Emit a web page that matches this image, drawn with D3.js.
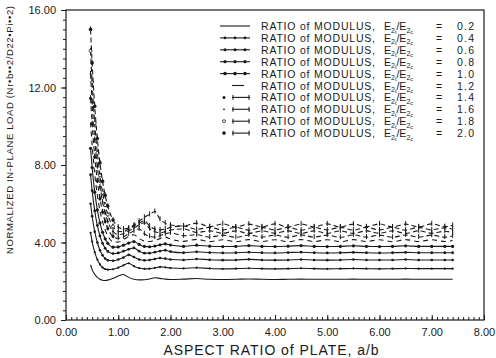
<!DOCTYPE html>
<html>
<head>
<meta charset="utf-8">
<script src="https://cdn.jsdelivr.net/npm/d3@7"></script>
<style>
  body { margin: 0; background: #fff; }
  svg { display: block; font-family: "Liberation Sans", Arial, sans-serif; }
  .axis text { font-size: 11px; fill: #1a1a1a; }
  .axis line { stroke: #1a1a1a; stroke-width: 1; }
  .frame { fill: none; stroke: #1a1a1a; stroke-width: 1.2; }
  .curve { fill: none; stroke: #1a1a1a; stroke-width: 1.1; }
  .legend-text { font-size: 10.5px; fill: #1a1a1a; }
  .axis-title { fill: #1a1a1a; }
</style>
</head>
<body>
<svg id="chart"></svg>
<script>
// aspect ratio a/b where the load was read
const aspect = [0.47, 0.5, 0.55, 0.6, 0.65, 0.7, 0.75, 0.8, 0.9, 1.0,
  1.1, 1.2, 1.3, 1.4, 1.5, 1.6, 1.7, 1.8, 1.9, 2.0,
  2.25, 2.5, 2.75, 3.0, 3.25, 3.5, 3.75, 4.0, 4.25, 4.5,
  4.75, 5.0, 5.25, 5.5, 5.75, 6.0, 6.25, 6.5, 6.75, 7.0, 7.25, 7.4];

const ratioLabels = ['0.2', '0.4', '0.6', '0.8', '1.0', '1.2', '1.4', '1.6', '1.8', '2.0'];

const load02 = [2.85, 2.60, 2.36, 2.20, 2.10, 2.05, 2.04, 2.06, 2.15, 2.27, 2.35, 2.20, 2.10, 2.07, 2.08, 2.12, 2.18, 2.15, 2.11, 2.09, 2.11, 2.14, 2.10, 2.09, 2.10, 2.12, 2.10, 2.09, 2.10, 2.11, 2.10, 2.10, 2.10, 2.11, 2.10, 2.10, 2.10, 2.11, 2.10, 2.10, 2.10, 2.10];
const load04 = [4.50, 4.05, 3.50, 3.12, 2.87, 2.71, 2.63, 2.60, 2.62, 2.70, 2.82, 2.93, 2.78, 2.68, 2.64, 2.65, 2.69, 2.74, 2.72, 2.68, 2.66, 2.70, 2.66, 2.64, 2.65, 2.67, 2.65, 2.64, 2.65, 2.67, 2.65, 2.64, 2.65, 2.66, 2.65, 2.64, 2.65, 2.66, 2.65, 2.65, 2.65, 2.65];
const load06 = [6.00, 5.36, 4.56, 4.00, 3.60, 3.34, 3.17, 3.08, 3.06, 3.12, 3.22, 3.36, 3.25, 3.12, 3.08, 3.10, 3.15, 3.20, 3.17, 3.12, 3.10, 3.15, 3.11, 3.09, 3.10, 3.13, 3.10, 3.09, 3.10, 3.12, 3.10, 3.09, 3.10, 3.12, 3.10, 3.10, 3.10, 3.12, 3.10, 3.10, 3.10, 3.10];
const load08 = [7.50, 6.68, 5.63, 4.88, 4.34, 3.96, 3.70, 3.54, 3.43, 3.46, 3.55, 3.65, 3.72, 3.55, 3.45, 3.45, 3.50, 3.56, 3.60, 3.53, 3.47, 3.52, 3.48, 3.46, 3.47, 3.50, 3.47, 3.46, 3.48, 3.50, 3.47, 3.46, 3.47, 3.49, 3.47, 3.46, 3.47, 3.49, 3.47, 3.47, 3.47, 3.47];
const load10 = [8.86, 7.87, 6.60, 5.68, 5.01, 4.53, 4.19, 3.96, 3.76, 3.77, 3.86, 3.97, 4.05, 3.90, 3.80, 3.78, 3.82, 3.88, 3.93, 3.87, 3.80, 3.86, 3.81, 3.79, 3.80, 3.84, 3.80, 3.79, 3.81, 3.84, 3.80, 3.79, 3.80, 3.83, 3.80, 3.79, 3.80, 3.83, 3.80, 3.80, 3.80, 3.80];
const load12 = [10.20, 9.03, 7.53, 6.44, 5.64, 5.06, 4.64, 4.35, 4.04, 4.02, 4.15, 4.30, 4.40, 4.20, 4.08, 4.05, 4.10, 4.20, 4.28, 4.18, 4.06, 4.16, 4.05, 4.14, 4.04, 4.15, 4.05, 4.14, 4.04, 4.15, 4.05, 4.14, 4.04, 4.15, 4.05, 4.14, 4.04, 4.15, 4.05, 4.14, 4.05, 4.10];
const load14 = [11.45, 10.13, 8.43, 7.18, 6.26, 5.58, 5.08, 4.72, 4.32, 4.22, 4.30, 4.45, 4.60, 4.70, 4.45, 4.32, 4.28, 4.35, 4.45, 4.50, 4.35, 4.40, 4.28, 4.38, 4.27, 4.39, 4.28, 4.38, 4.27, 4.39, 4.28, 4.38, 4.27, 4.39, 4.28, 4.38, 4.27, 4.39, 4.28, 4.38, 4.28, 4.34];
const load16 = [12.70, 11.22, 9.31, 7.91, 6.87, 6.09, 5.51, 5.08, 4.58, 4.41, 4.45, 4.60, 4.75, 4.90, 5.02, 4.72, 4.55, 4.50, 4.56, 4.64, 4.70, 4.52, 4.60, 4.48, 4.60, 4.47, 4.60, 4.48, 4.60, 4.47, 4.60, 4.48, 4.60, 4.47, 4.60, 4.48, 4.60, 4.47, 4.60, 4.48, 4.58, 4.50];
const load18 = [13.90, 12.28, 10.17, 8.62, 7.46, 6.58, 5.93, 5.44, 4.83, 4.58, 4.56, 4.70, 4.85, 5.00, 5.12, 4.85, 4.70, 4.66, 4.70, 4.78, 4.85, 4.68, 4.78, 4.65, 4.78, 4.64, 4.78, 4.65, 4.78, 4.64, 4.78, 4.65, 4.78, 4.64, 4.78, 4.65, 4.78, 4.64, 4.78, 4.65, 4.76, 4.68];
const load20 = [15.00, 13.27, 11.03, 9.37, 8.11, 7.16, 6.43, 5.88, 5.16, 4.80, 4.70, 4.75, 4.90, 5.10, 5.30, 5.45, 5.60, 5.20, 5.00, 4.90, 4.85, 5.00, 4.82, 4.96, 4.80, 4.95, 4.81, 4.96, 4.80, 4.95, 4.81, 4.96, 4.80, 4.95, 4.81, 4.96, 4.80, 4.95, 4.81, 4.96, 4.82, 4.88];

const xTicks = [0, 1, 2, 3, 4, 5, 6, 7, 8];
const yTicks = [0, 4, 8, 12, 16];

class LoadChart {

  constructor(_config) {
    this.config = {
      parentElement: _config.parentElement,
      containerWidth: _config.containerWidth || 496,
      containerHeight: _config.containerHeight || 358,
      margin: _config.margin || {top: 10, right: 12, bottom: 38, left: 66}
    };
    this.series = [load02, load04, load06, load08, load10, load12, load14, load16, load18, load20];
    // line style per series (dash pattern + marker kind)
    this.styles = [
      {dash: null, marker: null},
      {dash: null, marker: 'dot', r: 1.1},
      {dash: null, marker: 'dot', r: 1.3},
      {dash: null, marker: 'dot', r: 1.4},
      {dash: null, marker: 'dot', r: 1.6},
      {dash: '5,4', marker: null},
      {dash: '5,3', marker: 'tick', sym: 'dot', r: 1.5},
      {dash: '5,3', marker: 'tick', sym: 'dot', r: 0.9},
      {dash: '5,3', marker: 'tick', sym: 'open', r: 1.5},
      {dash: '5,3', marker: 'tick', sym: 'dot', r: 1.8}
    ];
    this.initVis();
  }

  initVis() {
    let vis = this;
    const m = vis.config.margin;
    vis.width = vis.config.containerWidth - m.left - m.right;
    vis.height = vis.config.containerHeight - m.top - m.bottom;

    vis.xScale = d3.scaleLinear().domain([0, 8]).range([0, vis.width]);
    vis.yScale = d3.scaleLinear().domain([0, 16]).range([vis.height, 0]);

    vis.svg = d3.select(vis.config.parentElement)
        .attr('width', vis.config.containerWidth)
        .attr('height', vis.config.containerHeight);

    vis.chart = vis.svg.append('g')
        .attr('transform', `translate(${m.left},${m.top})`);

    // minor ticks first, majors on top
    vis.chart.append('g')
        .attr('class', 'axis')
        .attr('transform', `translate(0,${vis.height})`)
        .call(d3.axisBottom(vis.xScale).tickValues(d3.range(0, 8.001, 0.1)).tickSize(-3).tickFormat(''))
        .call(g => g.select('.domain').remove());

    vis.chart.append('g')
        .attr('class', 'axis')
        .attr('transform', `translate(0,${vis.height})`)
        .call(d3.axisBottom(vis.xScale).tickValues(xTicks).tickSizeInner(-5).tickSizeOuter(0)
          .tickPadding(8).tickFormat(d3.format('.2f')))
        .call(g => g.select('.domain').remove());

    vis.chart.append('g')
        .attr('class', 'axis')
        .call(d3.axisLeft(vis.yScale).tickValues(d3.range(0, 16.001, 0.5)).tickSize(3).tickFormat(''))
        .call(g => g.select('.domain').remove());

    vis.chart.append('g')
        .attr('class', 'axis')
        .call(d3.axisLeft(vis.yScale).tickValues(yTicks).tickSizeInner(5).tickSizeOuter(0)
          .tickPadding(5).tickFormat(d3.format('.2f')))
        .call(g => g.select('.domain').remove());

    vis.chart.append('rect')
        .attr('class', 'frame')
        .attr('width', vis.width)
        .attr('height', vis.height);

    // axis titles
    vis.svg.append('text')
        .attr('class', 'axis-title')
        .attr('x', 271)
        .attr('y', 355)
        .attr('text-anchor', 'middle')
        .attr('font-size', 14)
        .attr('textLength', 215)
        .text('ASPECT RATIO of PLATE, a/b');

    vis.svg.append('text')
        .attr('class', 'axis-title')
        .attr('transform', 'translate(13,130) rotate(-90)')
        .attr('text-anchor', 'middle')
        .attr('font-size', 9.5)
        .attr('textLength', 248)
        .text('NORMALIZED IN-PLANE LOAD (Nr•b••2/D22•Pi••2)');
  }

  renderVis() {
    let vis = this;
    const line = d3.line()
        .x((d, i) => vis.xScale(aspect[i]))
        .y(d => vis.yScale(d))
        .curve(d3.curveMonotoneX);

    vis.series.forEach((values, k) => {
      const st = vis.styles[k];
      const g = vis.chart.append('g');
      g.append('path')
          .attr('class', 'curve')
          .attr('d', line(values))
          .attr('stroke-dasharray', st.dash);

      if (st.marker === 'dot') {
        g.selectAll('circle').data(values).join('circle')
            .attr('cx', (d, i) => vis.xScale(aspect[i]))
            .attr('cy', d => vis.yScale(d))
            .attr('r', st.r)
            .attr('fill', '#1a1a1a');
      }
      if (st.marker === 'tick') {
        g.selectAll('line').data(values).join('line')
            .attr('x1', (d, i) => vis.xScale(aspect[i]))
            .attr('x2', (d, i) => vis.xScale(aspect[i]))
            .attr('y1', d => vis.yScale(d) - 3)
            .attr('y2', d => vis.yScale(d) + 2)
            .attr('stroke', '#1a1a1a');
        g.selectAll('circle').data(values.slice(0, 9)).join('circle')
            .attr('cx', (d, i) => vis.xScale(aspect[i]))
            .attr('cy', d => vis.yScale(d))
            .attr('r', st.r)
            .attr('fill', st.sym === 'open' ? '#fff' : '#1a1a1a')
            .attr('stroke', '#1a1a1a')
            .attr('stroke-width', st.sym === 'open' ? 0.8 : 0);
      }
    });

    vis.renderLegend();
  }

  renderLegend() {
    let vis = this;
    const rowY = i => 26 + i * 11.9;

    ratioLabels.forEach((lab, i) => {
      const st = vis.styles[i];
      const y = rowY(i);
      const g = vis.svg.append('g');
      const x0 = (i >= 5) ? 232 : 220;
      g.append('line')
          .attr('x1', x0).attr('x2', 250)
          .attr('y1', y).attr('y2', y)
          .attr('stroke', '#1a1a1a')
          .attr('stroke-width', 1.1)
          .attr('stroke-dasharray', i === 5 ? '12,30' : null);
      if (st.marker === 'dot') {
        [225, 235, 245].forEach(cx => g.append('circle')
            .attr('cx', cx).attr('cy', y).attr('r', st.r + 0.2).attr('fill', '#1a1a1a'));
      }
      if (st.marker === 'tick') {
        g.append('circle')
            .attr('cx', 224).attr('cy', y).attr('r', st.r)
            .attr('fill', st.sym === 'open' ? '#fff' : '#1a1a1a')
            .attr('stroke', '#1a1a1a')
            .attr('stroke-width', st.sym === 'open' ? 0.8 : 0);
        [233, 249].forEach(cx => g.append('line')
            .attr('x1', cx).attr('x2', cx).attr('y1', y - 2.5).attr('y2', y + 2.5)
            .attr('stroke', '#1a1a1a'));
      }

      g.append('text')
          .attr('class', 'legend-text')
          .attr('x', 261).attr('y', y + 4)
          .attr('textLength', 114)
          .text('RATIO of MODULUS,');

      const e = g.append('text')
          .attr('class', 'legend-text')
          .attr('x', 384).attr('y', y + 4);
      e.append('tspan').text('E');
      e.append('tspan').attr('font-size', 7).attr('dy', 2.5).text('2');
      e.append('tspan').attr('font-size', 5.5).attr('dy', 1).text('t');
      e.append('tspan').attr('dy', -3.5).text('/E');
      e.append('tspan').attr('font-size', 7).attr('dy', 2.5).text('2');
      e.append('tspan').attr('font-size', 5.5).attr('dy', 1).text('c');

      g.append('text')
          .attr('class', 'legend-text')
          .attr('x', 436).attr('y', y + 4)
          .text('=');

      g.append('text')
          .attr('class', 'legend-text')
          .attr('x', 457).attr('y', y + 4)
          .attr('textLength', 17)
          .text(lab);
    });
  }
}

const chart = new LoadChart({parentElement: '#chart'});
chart.renderVis();
</script>
</body>
</html>
